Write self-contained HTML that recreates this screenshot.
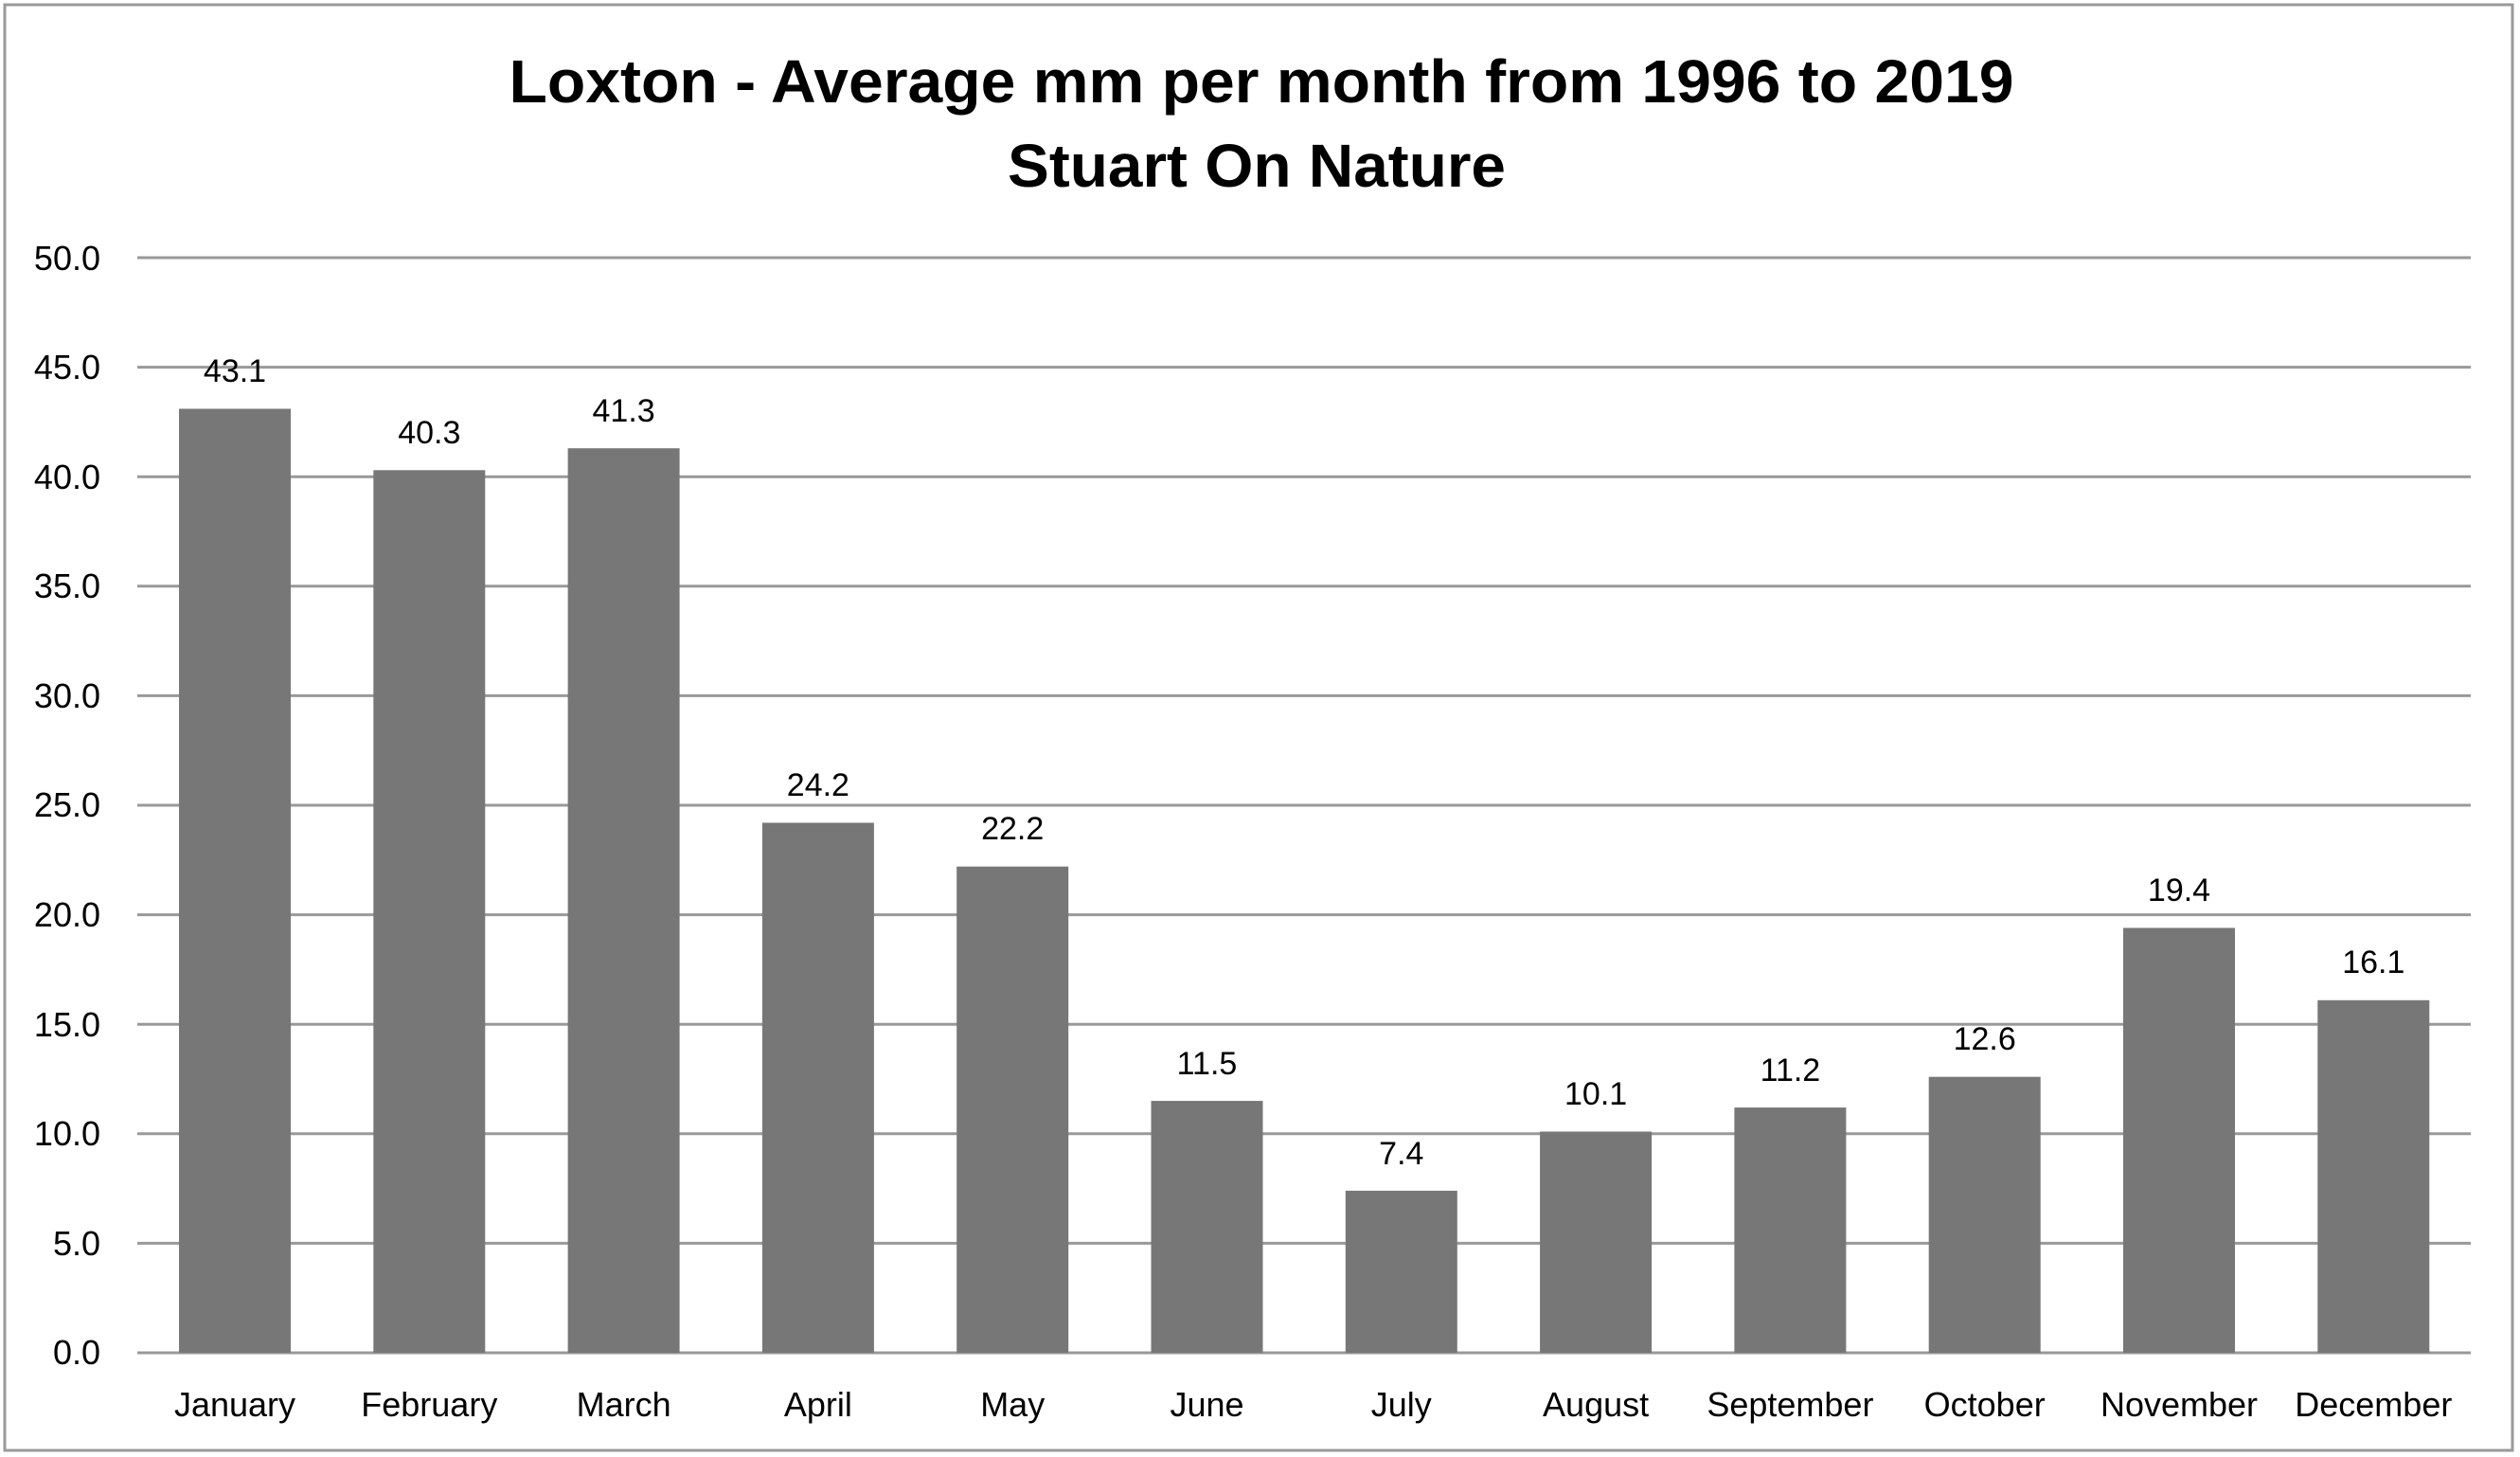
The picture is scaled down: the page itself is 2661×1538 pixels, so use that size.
<!DOCTYPE html>
<html><head><meta charset="utf-8"><style>
html,body{margin:0;padding:0;background:#fff;}
svg{display:block;font-family:"Liberation Sans",Arial,sans-serif;}
</style></head><body>
<svg width="2661" height="1538" viewBox="0 0 2661 1538" xmlns="http://www.w3.org/2000/svg">
<rect x="5" y="5" width="2648" height="1526" fill="#fff" stroke="#9a9a9a" stroke-width="3"/>
<text x="1332" y="108" font-size="64" font-weight="bold" text-anchor="middle" textLength="1589" lengthAdjust="spacingAndGlyphs">Loxton - Average mm per month from 1996 to 2019</text>
<text x="1327" y="197" font-size="64" font-weight="bold" text-anchor="middle" textLength="526" lengthAdjust="spacingAndGlyphs">Stuart On Nature</text>
<g stroke="#999" stroke-width="3">
<line x1="145" x2="2609" y1="272" y2="272"/>
<line x1="145" x2="2609" y1="387.6" y2="387.6"/>
<line x1="145" x2="2609" y1="503.2" y2="503.2"/>
<line x1="145" x2="2609" y1="618.8" y2="618.8"/>
<line x1="145" x2="2609" y1="734.4" y2="734.4"/>
<line x1="145" x2="2609" y1="850" y2="850"/>
<line x1="145" x2="2609" y1="965.6" y2="965.6"/>
<line x1="145" x2="2609" y1="1081.2" y2="1081.2"/>
<line x1="145" x2="2609" y1="1196.8" y2="1196.8"/>
<line x1="145" x2="2609" y1="1312.4" y2="1312.4"/>
<line x1="145" x2="2609" y1="1428" y2="1428"/>
</g>
<g font-size="36" text-anchor="end" fill="#000">
<text x="106" y="285">50.0</text>
<text x="106" y="400">45.0</text>
<text x="106" y="516">40.0</text>
<text x="106" y="631">35.0</text>
<text x="106" y="747">30.0</text>
<text x="106" y="862">25.0</text>
<text x="106" y="978">20.0</text>
<text x="106" y="1094">15.0</text>
<text x="106" y="1209">10.0</text>
<text x="106" y="1325">5.0</text>
<text x="106" y="1440">0.0</text>
</g>
<g fill="#777">
<rect x="189" y="431.5" width="118" height="996.5"/>
<rect x="394.3" y="496.3" width="118" height="931.7"/>
<rect x="599.6" y="473.2" width="118" height="954.8"/>
<rect x="804.9" y="868.5" width="118" height="559.5"/>
<rect x="1010.2" y="914.7" width="118" height="513.3"/>
<rect x="1215.5" y="1162.1" width="118" height="265.9"/>
<rect x="1420.8" y="1256.9" width="118" height="171.1"/>
<rect x="1626.1" y="1194.5" width="118" height="233.5"/>
<rect x="1831.4" y="1169.1" width="118" height="258.9"/>
<rect x="2036.7" y="1136.7" width="118" height="291.3"/>
<rect x="2242" y="979.5" width="118" height="448.5"/>
<rect x="2447.3" y="1055.8" width="118" height="372.2"/>
</g>
<g font-size="34" text-anchor="middle" fill="#000">
<text x="248" y="403">43.1</text>
<text x="453.3" y="468">40.3</text>
<text x="658.6" y="445">41.3</text>
<text x="863.9" y="840">24.2</text>
<text x="1069.2" y="886">22.2</text>
<text x="1274.5" y="1134">11.5</text>
<text x="1479.8" y="1229">7.4</text>
<text x="1685.1" y="1166">10.1</text>
<text x="1890.4" y="1141">11.2</text>
<text x="2095.7" y="1108">12.6</text>
<text x="2301" y="951">19.4</text>
<text x="2506.3" y="1027">16.1</text>
</g>
<g font-size="36" text-anchor="middle" fill="#000">
<text x="248" y="1495">January</text>
<text x="453.3" y="1495">February</text>
<text x="658.6" y="1495">March</text>
<text x="863.9" y="1495">April</text>
<text x="1069.2" y="1495">May</text>
<text x="1274.5" y="1495">June</text>
<text x="1479.8" y="1495">July</text>
<text x="1685.1" y="1495">August</text>
<text x="1890.4" y="1495">September</text>
<text x="2095.7" y="1495">October</text>
<text x="2301" y="1495">November</text>
<text x="2506.3" y="1495">December</text>
</g>
</svg>
</body></html>
